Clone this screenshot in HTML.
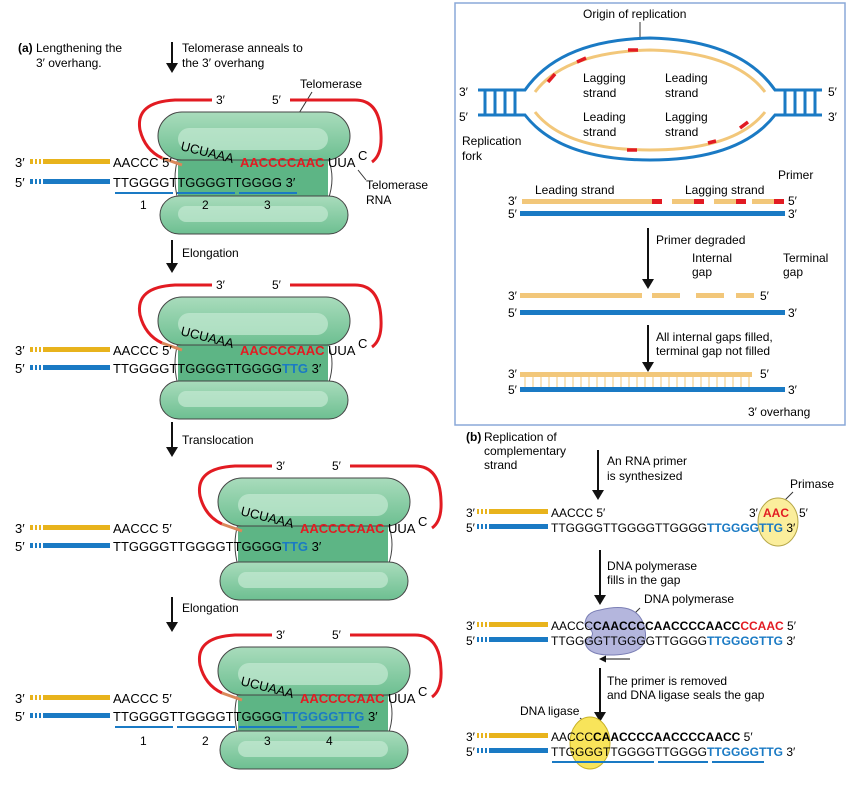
<!DOCTYPE html>
<html><head><meta charset="utf-8"><style>
body{margin:0;background:#fff}
svg{display:block;font-family:"Liberation Sans",sans-serif;font-size:12px}
.s{font-size:13px}
.r{fill:#e21b22;font-weight:bold}
.b{fill:#1a7ac4;font-weight:bold}
.k{font-weight:bold}
</style></head><body>
<svg width="849" height="785" viewBox="0 0 849 785">
<defs>
<linearGradient id="g1" x1="0" y1="0" x2="0" y2="1"><stop offset="0" stop-color="#a9dcbc"/><stop offset="1" stop-color="#6dbf91"/></linearGradient>
<marker id="ah" markerUnits="userSpaceOnUse" markerWidth="10" markerHeight="12" refX="5" refY="6" orient="auto"><path d="M0,0 L10,6 L0,12z" fill="#111"/></marker>
<marker id="ah2" markerUnits="userSpaceOnUse" markerWidth="7" markerHeight="7" refX="3" refY="3.5" orient="auto"><path d="M0,0 L7,3.5 L0,7z" fill="#111"/></marker>
<g id="tel">
<rect x="178" y="150" width="150" height="52" fill="#5db585"/>
<path d="M178,158 Q172,178 178,200 M328,158 Q336,178 328,200" fill="none" stroke="#444" stroke-width="1"/>
<rect x="158" y="112" width="192" height="48" rx="24" fill="url(#g1)" stroke="#444"/>
<rect x="178" y="128" width="150" height="22" rx="11" fill="#c5ead3" opacity=".7"/>
<rect x="160" y="196" width="188" height="38" rx="19" fill="url(#g1)" stroke="#444"/>
<rect x="178" y="206" width="150" height="16" rx="8" fill="#c5ead3" opacity=".7"/>
<path d="M212,100 L175,100 Q135,102 140,130 Q145,150 162,158" fill="none" stroke="#e21b22" stroke-width="3"/>
<path d="M162,158 L182,165" stroke="#d9885a" stroke-width="3"/>
<path d="M290,100 L355,100 Q380,100 381,135 Q382,155 372,162" fill="none" stroke="#e21b22" stroke-width="3"/>
<text x="216" y="104">3′</text><text x="272" y="104">5′</text>
</g>
<g id="dnaY"><rect x="30" y="0" width="3" height="5" fill="#e8b31c"/><rect x="35" y="0" width="2" height="5" fill="#e8b31c"/><rect x="39" y="0" width="2" height="5" fill="#e8b31c"/><rect x="43" y="0" width="67" height="5" fill="#e8b31c"/></g>
<g id="dnaB"><rect x="30" y="0" width="3" height="5" fill="#1a7ac4"/><rect x="35" y="0" width="2" height="5" fill="#1a7ac4"/><rect x="39" y="0" width="2" height="5" fill="#1a7ac4"/><rect x="43" y="0" width="67" height="5" fill="#1a7ac4"/></g>
<g id="dY2"><rect x="477" y="0" width="2" height="5" fill="#e8b31c"/><rect x="481" y="0" width="2" height="5" fill="#e8b31c"/><rect x="485" y="0" width="2" height="5" fill="#e8b31c"/><rect x="489" y="0" width="59" height="5" fill="#e8b31c"/></g>
<g id="dB2"><rect x="477" y="0" width="2" height="5" fill="#1a7ac4"/><rect x="481" y="0" width="2" height="5" fill="#1a7ac4"/><rect x="485" y="0" width="2" height="5" fill="#1a7ac4"/><rect x="489" y="0" width="59" height="5" fill="#1a7ac4"/></g>
</defs>

<!-- (a) -->
<text x="18" y="52" class="k">(a)</text><text x="36" y="52">Lengthening the</text><text x="36" y="67">3′ overhang.</text>
<line x1="172" y1="42" x2="172" y2="68" stroke="#111" stroke-width="2" marker-end="url(#ah)"/>
<text x="182" y="52">Telomerase anneals to</text><text x="182" y="67">the 3′ overhang</text>
<text x="300" y="88">Telomerase</text><line x1="312" y1="92" x2="296" y2="118" stroke="#333"/>

<use href="#tel"/>
<text x="15" y="167" class="s">3′</text><use href="#dnaY" x="0" y="159"/>
<text x="15" y="187" class="s">5′</text><use href="#dnaB" x="0" y="179"/>
<text x="113" y="167" class="s">AACCC 5′</text>
<text x="180" y="150" class="s" transform="rotate(14 180 150)">UCUAAA</text>
<text x="240" y="167" class="s r">AACCCCAAC</text><text x="328" y="167" class="s">UUA</text><text x="358" y="160" class="s">C</text>
<text x="113" y="187" class="s">TTGGGGTTGGGGTTGGGG 3′</text>
<rect x="115" y="192" width="58" height="2" fill="#1a7ac4"/><rect x="177" y="192" width="58" height="2" fill="#1a7ac4"/><rect x="239" y="192" width="58" height="2" fill="#1a7ac4"/>
<text x="140" y="209">1</text><text x="202" y="209">2</text><text x="264" y="209">3</text>
<text x="366" y="189">Telomerase</text><text x="366" y="204">RNA</text><line x1="366" y1="180" x2="358" y2="170" stroke="#333"/>

<line x1="172" y1="240" x2="172" y2="268" stroke="#111" stroke-width="2" marker-end="url(#ah)"/><text x="182" y="257">Elongation</text>
<use href="#tel" y="185"/>
<text x="15" y="355" class="s">3′</text><use href="#dnaY" y="347"/>
<text x="15" y="373" class="s">5′</text><use href="#dnaB" y="365"/>
<text x="113" y="355" class="s">AACCC 5′</text>
<text x="180" y="335" class="s" transform="rotate(14 180 335)">UCUAAA</text>
<text x="240" y="355" class="s r">AACCCCAAC</text><text x="328" y="355" class="s">UUA</text><text x="358" y="348" class="s">C</text>
<text x="113" y="373" class="s">TTGGGGTTGGGGTTGGGG<tspan class="b">TTG</tspan> 3′</text>

<line x1="172" y1="422" x2="172" y2="452" stroke="#111" stroke-width="2" marker-end="url(#ah)"/><text x="182" y="444">Translocation</text>
<use href="#tel" x="60" y="366"/>
<text x="15" y="533" class="s">3′</text><use href="#dnaY" y="525"/>
<text x="15" y="551" class="s">5′</text><use href="#dnaB" y="543"/>
<text x="113" y="533" class="s">AACCC 5′</text>
<text x="240" y="515" class="s" transform="rotate(14 240 515)">UCUAAA</text>
<text x="300" y="533" class="s r">AACCCCAAC</text><text x="388" y="533" class="s">UUA</text><text x="418" y="526" class="s">C</text>
<text x="113" y="551" class="s">TTGGGGTTGGGGTTGGGG<tspan class="b">TTG</tspan> 3′</text>

<line x1="172" y1="597" x2="172" y2="627" stroke="#111" stroke-width="2" marker-end="url(#ah)"/><text x="182" y="612">Elongation</text>
<use href="#tel" x="60" y="535"/>
<text x="15" y="703" class="s">3′</text><use href="#dnaY" y="695"/>
<text x="15" y="721" class="s">5′</text><use href="#dnaB" y="713"/>
<text x="113" y="703" class="s">AACCC 5′</text>
<text x="240" y="685" class="s" transform="rotate(14 240 685)">UCUAAA</text>
<text x="300" y="703" class="s r">AACCCCAAC</text><text x="388" y="703" class="s">UUA</text><text x="418" y="696" class="s">C</text>
<text x="113" y="721" class="s">TTGGGGTTGGGGTTGGGG<tspan class="b">TTGGGGTTG</tspan> 3′</text>
<rect x="115" y="726" width="58" height="2" fill="#1a7ac4"/><rect x="177" y="726" width="58" height="2" fill="#1a7ac4"/><rect x="239" y="726" width="58" height="2" fill="#1a7ac4"/><rect x="301" y="726" width="58" height="2" fill="#1a7ac4"/>
<text x="140" y="745">1</text><text x="202" y="745">2</text><text x="264" y="745">3</text><text x="326" y="745">4</text>

<!-- right box -->
<rect x="455" y="3" width="390" height="422" fill="#fff" stroke="#8aa8d8" stroke-width="1.5"/>
<text x="583" y="18">Origin of replication</text><line x1="640" y1="22" x2="640" y2="40" stroke="#333"/>
<path d="M478,90 L525,90 Q560,40 650,38 Q740,40 775,90 L822,90" fill="none" stroke="#1a7ac4" stroke-width="3"/>
<path d="M478,115 L525,115 Q560,160 650,160 Q740,160 775,115 L822,115" fill="none" stroke="#1a7ac4" stroke-width="3"/>
<g stroke="#1a7ac4" stroke-width="3"><line x1="485" y1="90" x2="485" y2="115"/><line x1="495" y1="90" x2="495" y2="115"/><line x1="505" y1="90" x2="505" y2="115"/><line x1="515" y1="90" x2="515" y2="115"/><line x1="785" y1="90" x2="785" y2="115"/><line x1="795" y1="90" x2="795" y2="115"/><line x1="805" y1="90" x2="805" y2="115"/><line x1="815" y1="90" x2="815" y2="115"/></g>
<path d="M535,92 Q565,52 650,50 Q735,52 765,92" fill="none" stroke="#f2c77a" stroke-width="3"/>
<path d="M535,112 Q565,150 650,150 Q735,150 765,112" fill="none" stroke="#f2c77a" stroke-width="3"/>
<g stroke="#e21b22" stroke-width="3.5"><line x1="548" y1="82" x2="555" y2="74"/><line x1="577" y1="62" x2="586" y2="58"/><line x1="628" y1="50" x2="638" y2="50"/><line x1="740" y1="128" x2="748" y2="122"/><line x1="708" y1="143" x2="716" y2="141"/><line x1="627" y1="150" x2="637" y2="150"/></g>
<text x="583" y="82">Lagging</text><text x="583" y="97">strand</text>
<text x="665" y="82">Leading</text><text x="665" y="97">strand</text>
<text x="583" y="121">Leading</text><text x="583" y="136">strand</text>
<text x="665" y="121">Lagging</text><text x="665" y="136">strand</text>
<text x="459" y="96">3′</text><text x="459" y="121">5′</text><text x="828" y="96">5′</text><text x="828" y="121">3′</text>
<text x="462" y="145">Replication</text><text x="462" y="160">fork</text>

<text x="535" y="194">Leading strand</text><text x="685" y="194">Lagging strand</text><text x="778" y="179">Primer</text>
<rect x="522" y="199" width="140" height="5" fill="#f2c77a"/><rect x="652" y="199" width="10" height="5" fill="#e21b22"/>
<rect x="672" y="199" width="32" height="5" fill="#f2c77a"/><rect x="694" y="199" width="10" height="5" fill="#e21b22"/>
<rect x="714" y="199" width="32" height="5" fill="#f2c77a"/><rect x="736" y="199" width="10" height="5" fill="#e21b22"/>
<rect x="752" y="199" width="32" height="5" fill="#f2c77a"/><rect x="774" y="199" width="10" height="5" fill="#e21b22"/>
<rect x="520" y="211" width="265" height="5" fill="#1a7ac4"/>
<text x="508" y="205">3′</text><text x="508" y="218">5′</text><text x="788" y="205">5′</text><text x="788" y="218">3′</text>
<line x1="648" y1="228" x2="648" y2="284" stroke="#111" stroke-width="2" marker-end="url(#ah)"/><text x="656" y="244">Primer degraded</text>
<text x="692" y="262">Internal</text><text x="692" y="276">gap</text><text x="783" y="262">Terminal</text><text x="783" y="276">gap</text>
<rect x="520" y="293" width="122" height="5" fill="#f2c77a"/><rect x="652" y="293" width="28" height="5" fill="#f2c77a"/><rect x="696" y="293" width="28" height="5" fill="#f2c77a"/><rect x="736" y="293" width="18" height="5" fill="#f2c77a"/>
<rect x="520" y="310" width="265" height="5" fill="#1a7ac4"/>
<text x="508" y="300">3′</text><text x="508" y="317">5′</text><text x="760" y="300">5′</text><text x="788" y="317">3′</text>
<line x1="648" y1="325" x2="648" y2="367" stroke="#111" stroke-width="2" marker-end="url(#ah)"/><text x="656" y="341">All internal gaps filled,</text><text x="656" y="355">terminal gap not filled</text>
<rect x="520" y="372" width="232" height="5" fill="#f2c77a"/>
<g stroke="#f2c77a"><path d="M525,377v10M533,377v10M541,377v10M549,377v10M557,377v10M565,377v10M573,377v10M581,377v10M589,377v10M597,377v10M605,377v10M613,377v10M621,377v10M629,377v10M637,377v10M645,377v10M653,377v10M661,377v10M669,377v10M677,377v10M685,377v10M693,377v10M701,377v10M709,377v10M717,377v10M725,377v10M733,377v10M741,377v10M749,377v10"/></g>
<rect x="520" y="387" width="265" height="5" fill="#1a7ac4"/>
<text x="508" y="378">3′</text><text x="508" y="394">5′</text><text x="760" y="378">5′</text><text x="788" y="394">3′</text>
<text x="748" y="416">3′ overhang</text>

<!-- (b) -->
<text x="466" y="441" class="k">(b)</text><text x="484" y="441">Replication of</text><text x="484" y="455">complementary</text><text x="484" y="469">strand</text>
<line x1="598" y1="450" x2="598" y2="495" stroke="#111" stroke-width="2" marker-end="url(#ah)"/><text x="607" y="465">An RNA primer</text><text x="607" y="480">is synthesized</text>
<text x="790" y="488">Primase</text><line x1="793" y1="492" x2="782" y2="503" stroke="#333"/>
<ellipse cx="778" cy="522" rx="20" ry="24" fill="#fbee9c" stroke="#b5a647"/>
<text x="466" y="517">3′</text><use href="#dY2" y="509"/>
<text x="466" y="532">5′</text><use href="#dB2" y="524"/>
<text x="551" y="517">AACCC 5′</text><text x="749" y="517">3′</text><text x="763" y="517" class="r">AAC</text><text x="799" y="517">5′</text>
<text x="551" y="532">TTGGGGTTGGGGTTGGGG<tspan class="b">TTGGGGTTG</tspan> 3′</text>
<line x1="600" y1="550" x2="600" y2="600" stroke="#111" stroke-width="2" marker-end="url(#ah)"/><text x="607" y="570">DNA polymerase</text><text x="607" y="584">fills in the gap</text>
<text x="644" y="603">DNA polymerase</text><line x1="640" y1="608" x2="630" y2="618" stroke="#333"/>
<path d="M600,610 Q640,600 645,630 Q650,655 610,655 Q585,655 585,640 Q600,635 585,625 Q585,612 600,610z" fill="#b4b6dd" stroke="#7b7fb5"/>
<text x="466" y="630">3′</text><use href="#dY2" y="622"/>
<text x="466" y="645">5′</text><use href="#dB2" y="637"/>
<text x="551" y="630">AACCC<tspan class="k">CAACCCCAACCCCAACC</tspan><tspan class="r">CCAAC</tspan> 5′</text>
<text x="551" y="645">TTGGGGTTGGGGTTGGGG<tspan class="b">TTGGGGTTG</tspan> 3′</text>
<line x1="630" y1="659" x2="603" y2="659" stroke="#111" marker-end="url(#ah2)"/>
<line x1="600" y1="668" x2="600" y2="717" stroke="#111" stroke-width="2" marker-end="url(#ah)"/><text x="607" y="685">The primer is removed</text><text x="607" y="699">and DNA ligase seals the gap</text>
<text x="520" y="715">DNA ligase</text><line x1="580" y1="718" x2="590" y2="726" stroke="#333"/>
<ellipse cx="590" cy="743" rx="20" ry="26" fill="#f8e45a" stroke="#c9b227"/>
<text x="466" y="741">3′</text><use href="#dY2" y="733"/>
<text x="466" y="756">5′</text><use href="#dB2" y="748"/>
<text x="551" y="741">AACCC<tspan class="k">CAACCCCAACCCCAACC</tspan> 5′</text>
<text x="551" y="756">TTGGGGTTGGGGTTGGGG<tspan class="b">TTGGGGTTG</tspan> 3′</text>
<rect x="552" y="761" width="102" height="2" fill="#1a7ac4"/><rect x="658" y="761" width="50" height="2" fill="#1a7ac4"/><rect x="712" y="761" width="52" height="2" fill="#1a7ac4"/>
</svg>
</body></html>
